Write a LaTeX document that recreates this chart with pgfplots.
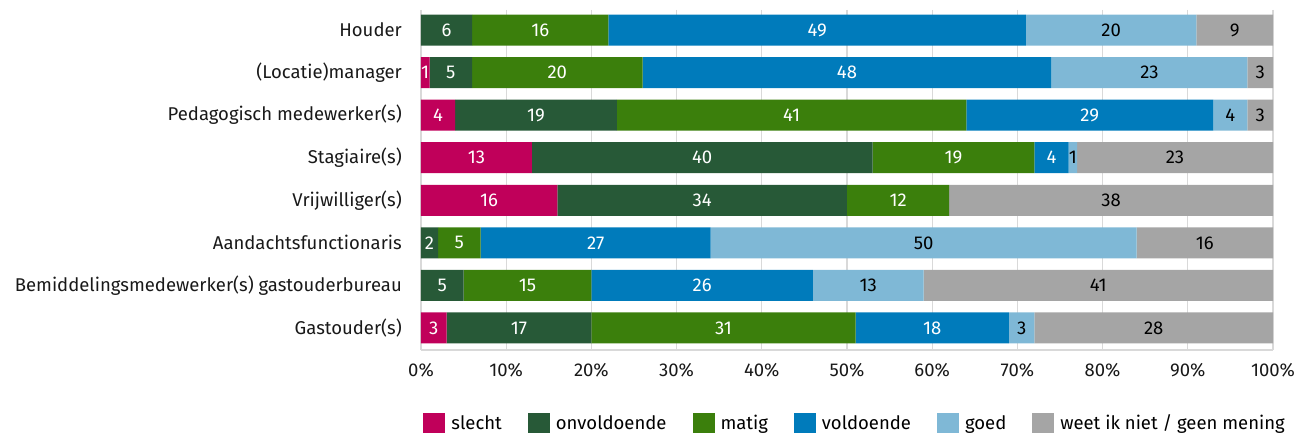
\documentclass[border=0pt]{standalone}
\usepackage{pgfplots}
\pgfplotsset{compat=1.18}
\usepackage{pgfplotstable}
\usepackage{fontspec}
\setmainfont{Fira Sans}
\newcommand\fs{\fontsize{18.5}{22}\selectfont}
\definecolor{cSl}{HTML}{C0005A}
\definecolor{cOn}{HTML}{275937}
\definecolor{cMa}{HTML}{3B7F0C}
\definecolor{cVo}{HTML}{007BBB}
\definecolor{cGo}{HTML}{7FB8D6}
\definecolor{cWe}{HTML}{A5A5A5}
\definecolor{cGrid}{HTML}{D9D9D9}
\pgfplotstableread{
pos sl on ma vo go we
0 0 6 16 49 20 9
1 1 5 20 48 23 3
2 4 19 41 29 4 3
3 13 40 19 4 1 23
4 16 34 12 0 0 38
5 0 2 5 27 50 16
6 0 5 15 26 13 41
7 3 17 31 18 3 28
}\data
\begin{document}
\begin{tikzpicture}
\useasboundingbox (-421pt,-85pt) rectangle (880pt,350pt);
\begin{axis}[at={(0,0)}, anchor=south west, scale only axis,
  width=852pt, height=340pt,
  xbar stacked, bar width=31pt,
  y dir=reverse, ymin=-0.47, ymax=7.517, xmin=0, xmax=100,
  ytick={0,...,7},
  yticklabels={Houder,(Locatie)manager,Pedagogisch medewerker(s),Stagiaire(s),Vrijwilliger(s),Aandachtsfunctionaris,Bemiddelingsmedewerker(s) gastouderbureau,Gastouder(s)},
  xtick={0,10,...,100},
  xticklabel={\pgfmathprintnumber[assume math mode=true]{\tick}\%},
  major tick length=0pt,
  xmajorgrids, grid style={cGrid, line width=1.2pt},
  axis x line*=bottom, axis y line*=left,
  axis line style={cGrid, line width=1.2pt, -},
  tick label style={font=\fs, inner sep=0pt, text=black!90},
  yticklabel style={anchor=east, xshift=-19pt},
  xticklabel style={anchor=north, yshift=-13pt},
  nodes near coords={\ifdim\val pt=0pt\else\pgfmathprintnumber[assume math mode=true]{\val}\fi},
  every node near coord/.append style={anchor=center, inner sep=0pt, font=\fs},
  legend style={draw=none, font=\fs, legend columns=6, at={(0.509,-0.2147)}, anchor=center,
     /tikz/every odd column/.append style={column sep=5pt},
     /tikz/every even column/.append style={column sep=25pt}, inner sep=0pt,
     nodes={inner sep=1pt}},
  legend cell align=left,
  legend image code/.code={\fill[#1] (0pt,-10pt) rectangle (22pt,10pt);},
]
\addplot[fill=cSl, draw=none, visualization depends on={\thisrow{sl} \as \val},
  every node near coord/.append style={text=white}] table[x=sl, y=pos] {\data};
\addlegendentry{slecht}
\addplot[fill=cOn, draw=none, visualization depends on={\thisrow{on} \as \val},
  every node near coord/.append style={text=white}] table[x=on, y=pos] {\data};
\addlegendentry{onvoldoende}
\addplot[fill=cMa, draw=none, visualization depends on={\thisrow{ma} \as \val},
  every node near coord/.append style={text=white}] table[x=ma, y=pos] {\data};
\addlegendentry{matig}
\addplot[fill=cVo, draw=none, visualization depends on={\thisrow{vo} \as \val},
  every node near coord/.append style={text=white}] table[x=vo, y=pos] {\data};
\addlegendentry{voldoende}
\addplot[fill=cGo, draw=none, visualization depends on={\thisrow{go} \as \val},
  every node near coord/.append style={text=black}] table[x=go, y=pos] {\data};
\addlegendentry{goed}
\addplot[fill=cWe, draw=none, visualization depends on={\thisrow{we} \as \val},
  every node near coord/.append style={text=black}] table[x=we, y=pos] {\data};
\addlegendentry{weet ik niet / geen mening}
\end{axis}
\end{tikzpicture}
\end{document}
